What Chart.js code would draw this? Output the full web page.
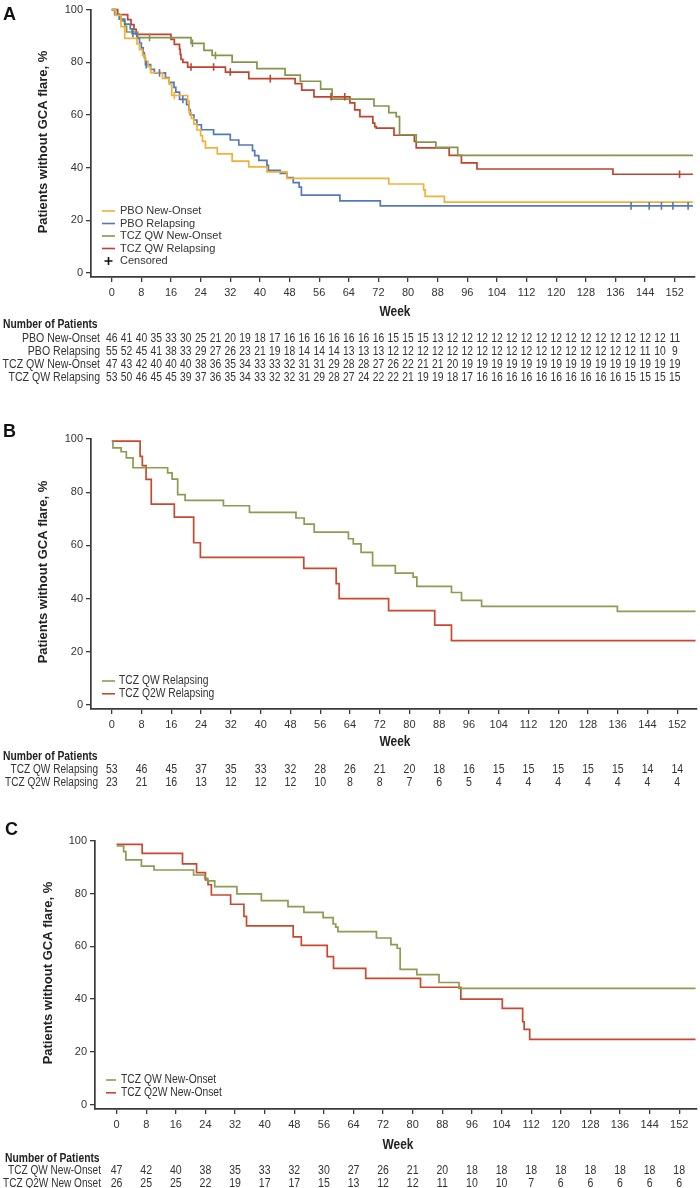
<!DOCTYPE html>
<html><head><meta charset="utf-8">
<script src="https://cdn.jsdelivr.net/npm/chart.js@4.4.1/dist/chart.umd.min.js"></script>
<style>
html,body{margin:0;padding:0;background:#fff;}
body{width:700px;height:1188px;position:relative;overflow:hidden;}
canvas{position:absolute;left:0;}
</style></head><body>
<canvas id="cA" width="700" height="395" style="top:0px"></canvas>
<canvas id="cB" width="700" height="395" style="top:395px"></canvas>
<canvas id="cC" width="700" height="398" style="top:790px"></canvas>
<script>
// ---------- tick labels ----------
const xTickWeeks = [0,8,16,24,32,40,48,56,64,72,80,88,96,104,112,120,128,136,144,152];
const yTickValues = [0,20,40,60,80,100];
const riskWeeksA = [0,4,8,12,16,20,24,28,32,36,40,44,48,52,56,60,64,68,72,76,80,84,88,92,96,100,104,108,112,116,120,124,128,132,136,140,144,148,152];
const riskWeeksBC = [0,8,16,24,32,40,48,56,64,72,80,88,96,104,112,120,128,136,144,152];

// ---------- Panel A: [week, % without flare] ----------
const pboNewOnsetA = [[0,100],[1,97.8],[2.5,93.5],[3.5,89.1],[6.8,87],[7.5,84.8],[8.3,82.6],[9,80.4],[9.8,78.3],[10.5,76.1],[13.7,73.9],[15.5,71.7],[16.2,67.4],[20.5,65.2],[20.9,60.9],[21.5,58.7],[22.2,56.5],[23,54.3],[24,52.2],[24.5,50],[25.3,47.5],[28.5,45.2],[32.5,42.5],[37,40.3],[41.9,38.4],[47.3,35.9],[74.8,33.8],[84.2,31.6],[84.6,29.1],[89.8,26.9],[156.9,26.9]];
const pboRelapsingA = [[0,100],[0.8,98.2],[2,96.4],[3.5,94.5],[5,92.7],[5.5,90.9],[6.8,89.1],[7.5,87.3],[8,85.5],[8.5,83.6],[8.8,81.8],[9.1,79.1],[10.5,77.3],[11.5,76],[14.5,74.2],[15.5,72.4],[16.8,70.5],[17.3,68.7],[18.3,65.9],[20.2,63.9],[20.8,62],[21.2,60],[22.2,58.1],[23,56.3],[24.2,54.4],[27.5,52.6],[32,50.5],[34.3,48.6],[38,46.5],[38.6,44.6],[39.7,42.8],[41.9,40.9],[42.3,39],[45.5,37.8],[47.3,36.2],[49,34.3],[50.6,32.6],[51.2,29.6],[61.6,27.4],[72.5,25.5],[156.9,25.5]];
const tczQWNewOnsetA = [[0,100],[1,97.9],[2.5,95.7],[3.5,93.6],[4,91.5],[7,89.4],[21.4,87.2],[24.9,84.5],[27.1,82.6],[32.5,80.1],[39.2,77.6],[46.8,75.1],[50.9,72.8],[56.4,69.8],[59.5,66],[70.8,63.4],[74.8,60.9],[76.8,59.4],[77.7,52.5],[82.2,49.7],[87.5,47.7],[93.4,44.7],[156.9,44.7]];
const tczQWRelapsingA = [[0,100],[1.6,98.1],[4.3,96.2],[5.2,94.3],[6,92.5],[6.6,90.6],[16,88.7],[16.9,86.8],[18.3,84.9],[18.5,83],[18.7,81.1],[19.2,80],[20.5,78.2],[30.7,76.3],[37,73.8],[49.5,71.9],[51.3,69.4],[54.6,66.9],[64.3,64.6],[65.6,61.9],[67,59.4],[70.5,56.9],[71,55.6],[71.4,55],[76.2,52.3],[81.7,50],[82.2,47.5],[91.1,44.7],[94.4,41.8],[98.6,39.5],[135.3,37.5],[156.9,37.5]];
// censored observations
const pboNewOnsetCensA = [[16.9,67.4]];
const pboRelapsingCensA = [[5.7,90.9],[9.3,79.1],[12.9,76],[19.2,65.9],[140.2,25.5],[145.1,25.5],[148.4,25.5],[151.5,25.5],[155.6,25.5]];
const tczQWNewOnsetCensA = [[10.2,89.4],[21.8,87.2],[28,82.6]];
const tczQWRelapsingCensA = [[21.4,78.2],[27.5,78.2],[32,76.3],[42.8,73.8],[59.2,66.9],[62.9,66.9],[153.3,37.5]];
// numbers at risk
const riskPboNewOnset = [46,41,40,35,33,30,25,21,20,19,18,17,16,16,16,16,16,16,16,15,15,15,13,12,12,12,12,12,12,12,12,12,12,12,12,12,12,12,11];
const riskPboRelapsing = [55,52,45,41,38,33,29,27,26,23,21,19,18,14,14,14,13,13,13,12,12,12,12,12,12,12,12,12,12,12,12,12,12,12,12,12,11,10,9];
const riskTczQWNewOnsetA = [47,43,42,40,40,40,38,36,35,34,33,33,32,31,31,29,28,28,27,26,22,21,21,20,19,19,19,19,19,19,19,19,19,19,19,19,19,19,19];
const riskTczQWRelapsingA = [53,50,46,45,45,39,37,36,35,34,33,32,32,31,29,28,27,24,22,22,21,19,19,18,17,16,16,16,16,16,16,16,16,16,16,15,15,15,15];

// ---------- Panel B ----------
const tczQWRelapsingB = [[0,99.2],[0.3,96.7],[2.5,95.2],[3.9,92.9],[5.7,89.2],[15,87.3],[16.2,84.9],[17.7,79.1],[19.7,76.9],[30,74.9],[37,72.4],[49.5,70.3],[51.7,68],[54.4,65],[63.6,62.5],[64.9,60.6],[67,57.4],[70.1,52.4],[76.2,49.6],[81,48.1],[82,44.6],[91.3,42.3],[94,39.3],[99.4,37.1],[135.9,35.2],[156.9,35.2]];
const tczQ2WRelapsingB = [[0,99.2],[7.6,93.5],[8.2,90],[9.2,84.8],[10.6,75.5],[16.8,70.6],[22,61],[23.8,55.5],[51.6,51.4],[60.3,45.6],[61.1,40],[74.4,35.5],[86.8,30],[91.3,24.2],[156.9,24.2]];
const riskTczQWRelapsingB = [53,46,45,37,35,33,32,28,26,21,20,18,16,15,15,15,15,15,14,14];
const riskTczQ2WRelapsingB = [23,21,16,13,12,12,12,10,8,8,7,6,5,4,4,4,4,4,4,4];

// ---------- Panel C ----------
const tczQWNewOnsetC = [[0,98.1],[1.9,96],[2.5,92.8],[6.7,90.5],[10.1,89],[20.8,87.1],[23.8,85.8],[24.6,84.9],[26.5,82.7],[32.5,79.9],[39.1,77.4],[46.3,75.1],[50.6,72.9],[55.8,70.9],[58.5,68.5],[59.2,67.3],[59.8,65.6],[70.2,63.2],[74.1,60.7],[75.8,59.3],[76.6,51.3],[81.1,49.3],[87.1,46.3],[92.5,44.1],[156.4,44.1]];
const tczQ2WNewOnsetC = [[0,98.7],[6.9,95.3],[17.8,91.3],[21.6,88],[24,85.2],[24.7,83.4],[25.6,79.5],[30.8,76],[34.4,71.4],[35.1,67.8],[47.7,63.6],[49.9,60.4],[56.9,56.1],[58.6,51.7],[67.3,47.9],[82.1,44.5],[93,40],[104.2,36.5],[109.7,31.4],[110.1,28.5],[111.6,24.7],[156.4,24.7]];
const riskTczQWNewOnsetC = [47,42,40,38,35,33,32,30,27,26,21,20,18,18,18,18,18,18,18,18];
const riskTczQ2WNewOnsetC = [26,25,25,22,19,17,17,15,13,12,12,11,10,10,7,6,6,6,6,6];

// ---------- styling ----------
const FONT = "'Liberation Sans', Arial, sans-serif";
const COL = {yellow:'#F2B134', blue:'#5479B5', green:'#85964B', red:'#C0432E', green2:'#8C9C50', red2:'#C9492F'};
const AXIS = '#3a3a3a';
const toXY = a => a.map(p => ({x:p[0], y:p[1]}));

// draws horizontally condensed text (narrow face look) as real text
function narrowText(ctx, text, x, y, align, sx) {
  ctx.save(); ctx.translate(x, y); ctx.scale(sx, 1); ctx.textAlign = align; ctx.fillText(text, 0, 0); ctx.restore();
}

const annotPlugin = {
  id:'annot',
  afterDraw(chart, args, opts) {
    const P = opts.P, ctx = chart.ctx, xs = chart.scales.x;
    ctx.save();
    ctx.textBaseline = 'alphabetic';
    // panel letter
    ctx.fillStyle = '#111'; ctx.font = 'bold 18px ' + FONT;
    narrowText(ctx, P.letter, P.letterX, P.letterY, 'left', 1);
    // y title
    ctx.save(); ctx.translate(P.yTitleX, P.yTitleY); ctx.rotate(-Math.PI/2);
    ctx.font = 'bold 13px ' + FONT; ctx.textAlign = 'center'; ctx.textBaseline = 'middle'; ctx.fillStyle = '#222';
    ctx.fillText('Patients without GCA flare, %', 0, 0); ctx.restore();
    ctx.textBaseline = 'middle';
    // x title
    ctx.font = 'bold 14px ' + FONT; ctx.fillStyle = '#222';
    narrowText(ctx, 'Week', P.weekX, P.weekY, 'center', 0.85);
    // legend
    ctx.font = P.legFont;
    P.series.forEach((s, i) => {
      const y = P.legY0 + i * P.legDy;
      ctx.strokeStyle = s.color; ctx.lineWidth = 1.6;
      ctx.beginPath(); ctx.moveTo(P.legX0, y); ctx.lineTo(P.legX1, y); ctx.stroke();
      ctx.fillStyle = '#333'; narrowText(ctx, s.label, P.legTx, y, 'left', P.legSx);
    });
    if (P.censLegend) {
      const y = P.legY0 + P.series.length * P.legDy;
      const cx = (P.legX0 + P.legX1) / 2;
      ctx.strokeStyle = '#111'; ctx.lineWidth = 1.6;
      ctx.beginPath(); ctx.moveTo(cx - 4, y); ctx.lineTo(cx + 4, y); ctx.moveTo(cx, y - 4); ctx.lineTo(cx, y + 4); ctx.stroke();
      ctx.fillStyle = '#333'; narrowText(ctx, 'Censored', P.legTx, y, 'left', P.legSx);
    }
    // number at risk table
    ctx.fillStyle = '#222'; ctx.font = 'bold 12px ' + FONT;
    narrowText(ctx, 'Number of Patients', P.nopX, P.nopY, 'left', 0.86);
    ctx.font = P.riskFont;
    P.risk.forEach((r, i) => {
      const y = P.riskY0 + i * P.riskDy;
      ctx.fillStyle = '#333';
      narrowText(ctx, r.label, P.riskLabelX, y, 'right', P.riskLabelSx);
      r.values.forEach((v, j) => narrowText(ctx, String(v), xs.getPixelForValue(P.riskWeeks[j]), y, 'center', P.riskSx));
    });
    ctx.restore();
  }
};

function makePanel(id, P) {
  const datasets = [];
  P.series.forEach(s => {
    datasets.push({type:'line', label:s.label, data:toXY(s.data), borderColor:s.color, backgroundColor:s.color,
      borderWidth:1.7, stepped:'before', pointRadius:0, fill:false, tension:0, clip:6, order:2});
    if (s.cens && s.cens.length) {
      datasets.push({type:'scatter', label:s.label + ' (censored)', data:toXY(s.cens), borderColor:s.color,
        backgroundColor:s.color, pointStyle:'line', rotation:90, pointRadius:3.8, borderWidth:1.6, clip:6, order:1});
    }
  });
  return new Chart(document.getElementById(id), {
    type:'line',
    data:{datasets},
    options:{
      responsive:false, animation:false, devicePixelRatio:1, events:[],
      layout:{padding:{left:0, right:3, top:P.padTop, bottom:P.padBottom}},
      plugins:{legend:{display:false}, tooltip:{enabled:false}, annot:{P}},
      scales:{
        x:{type:'linear', min:P.xMin, max:P.xMax,
          afterBuildTicks:s => { s.ticks = xTickWeeks.map(v => ({value:v})); },
          afterFit:s => { s.height = 30; },
          grid:{drawOnChartArea:false, drawTicks:true, tickLength:5, color:AXIS, lineWidth:1.3},
          border:{display:true, color:AXIS, width:1.7},
          ticks:{font:{family:FONT, size:11}, color:'#333', padding:4, maxRotation:0, autoSkip:false}},
        y:{type:'linear', min:P.yMin, max:100,
          afterBuildTicks:s => { s.ticks = yTickValues.map(v => ({value:v})); },
          afterFit:s => { s.width = P.yAxisW; },
          grid:{drawOnChartArea:false, drawTicks:true, tickLength:5, color:AXIS, lineWidth:1.3},
          border:{display:true, color:AXIS, width:1.7},
          ticks:{font:{family:FONT, size:11}, color:'#333', padding:3}}
      }
    },
    plugins:[annotPlugin]
  });
}

makePanel('cA', {
  letter:'A', letterX:3, letterY:20, yTitleX:43, yTitleY:142,
  weekX:395, weekY:312,
  padTop:7, padBottom:88, yAxisW:91, xMin:-5.6, xMax:157.3, yMin:-1.5,
  series:[
    {label:'PBO New-Onset', color:COL.yellow, data:pboNewOnsetA, cens:pboNewOnsetCensA},
    {label:'PBO Relapsing', color:COL.blue, data:pboRelapsingA, cens:pboRelapsingCensA},
    {label:'TCZ QW New-Onset', color:COL.green, data:tczQWNewOnsetA, cens:tczQWNewOnsetCensA},
    {label:'TCZ QW Relapsing', color:COL.red, data:tczQWRelapsingA, cens:tczQWRelapsingCensA}
  ],
  censLegend:true, legX0:102, legX1:115, legTx:120, legY0:211, legDy:12.5, legFont:'11px ' + FONT, legSx:1,
  nopX:3, nopY:325, riskLabelX:100, riskY0:338.5, riskDy:13.2, riskWeeks:riskWeeksA, riskFont:'12px ' + FONT, riskSx:0.86, riskLabelSx:0.88,
  risk:[
    {label:'PBO New-Onset', values:riskPboNewOnset},
    {label:'PBO Relapsing', values:riskPboRelapsing},
    {label:'TCZ QW New-Onset', values:riskTczQWNewOnsetA},
    {label:'TCZ QW Relapsing', values:riskTczQWRelapsingA}
  ]
});

makePanel('cB', {
  letter:'B', letterX:3, letterY:42, yTitleX:43, yTitleY:177,
  weekX:395, weekY:347,
  padTop:44, padBottom:51, yAxisW:91, xMin:-5.6, xMax:157.3, yMin:-1.5,
  series:[
    {label:'TCZ QW Relapsing', color:COL.green2, data:tczQWRelapsingB},
    {label:'TCZ Q2W Relapsing', color:COL.red2, data:tczQ2WRelapsingB}
  ],
  censLegend:false, legX0:102, legX1:115, legTx:119, legY0:286, legDy:12.8, legFont:'12px ' + FONT, legSx:0.86,
  nopX:3, nopY:362, riskLabelX:98, riskY0:375, riskDy:13, riskWeeks:riskWeeksBC, riskFont:'12px ' + FONT, riskSx:0.88, riskLabelSx:0.84,
  risk:[
    {label:'TCZ QW Relapsing', values:riskTczQWRelapsingB},
    {label:'TCZ Q2W Relapsing', values:riskTczQ2WRelapsingB}
  ]
});

makePanel('cC', {
  letter:'C', letterX:5, letterY:45, yTitleX:48, yTitleY:183,
  weekX:398, weekY:355,
  padTop:51, padBottom:49, yAxisW:95, xMin:-5.84, xMax:156.8, yMin:-1.7,
  series:[
    {label:'TCZ QW New-Onset', color:COL.green2, data:tczQWNewOnsetC},
    {label:'TCZ Q2W New-Onset', color:COL.red2, data:tczQ2WNewOnsetC}
  ],
  censLegend:false, legX0:106, legX1:116, legTx:121, legY0:290, legDy:12.8, legFont:'12px ' + FONT, legSx:0.86,
  nopX:5, nopY:369, riskLabelX:101, riskY0:381, riskDy:12.2, riskWeeks:riskWeeksBC, riskFont:'12px ' + FONT, riskSx:0.88, riskLabelSx:0.84,
  risk:[
    {label:'TCZ QW New-Onset', values:riskTczQWNewOnsetC},
    {label:'TCZ Q2W New Onset', values:riskTczQ2WNewOnsetC}
  ]
});
</script></body></html>
